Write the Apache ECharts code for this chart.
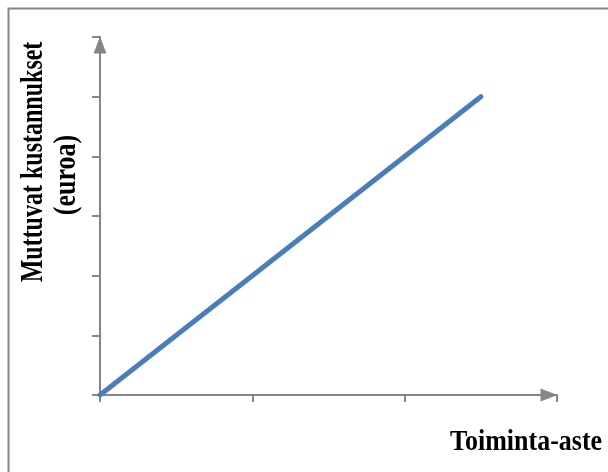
<!DOCTYPE html>
<html>
<head>
<meta charset="utf-8">
<script src="https://cdn.jsdelivr.net/npm/echarts@6/dist/echarts.min.js"></script>
<style>html,body{margin:0;padding:0;background:#fff;}#c{width:608px;height:472px;}</style>
</head>
<body>
<div id="c"></div>
<script>
var xValues = [0, 2.5];
var yValues = [0, 5];
var xTitle = 'Toiminta-aste';
var yTitleLines = ['Muttuvat kustannukset', '(euroa)'];

var chart = echarts.init(document.getElementById('c'), null, {renderer: 'canvas'});
var axisColor = '#868686';
var data = xValues.map(function (x, i) { return [x, yValues[i]]; });
var font = '"Liberation Serif", "Times New Roman", serif';
chart.setOption({
  animation: false,
  backgroundColor: '#fff',
  grid: {left: 100, top: 37, width: 457, height: 358, containLabel: false},
  xAxis: {
    type: 'value', min: 0, max: 3, interval: 1,
    axisLine: {show: true, symbol: ['none', 'triangle'], symbolSize: [13, 17], symbolOffset: [0, -8], lineStyle: {color: axisColor, width: 2}},
    axisTick: {show: true, inside: false, length: 7, lineStyle: {color: axisColor, width: 2}},
    axisLabel: {show: false},
    splitLine: {show: false}
  },
  yAxis: {
    type: 'value', min: 0, max: 6, interval: 1,
    axisLine: {show: true, symbol: ['none', 'triangle'], symbolSize: [13, 17], symbolOffset: [0, -8], lineStyle: {color: axisColor, width: 2}},
    axisTick: {show: true, inside: false, length: 8, lineStyle: {color: axisColor, width: 2}},
    axisLabel: {show: false},
    splitLine: {show: false}
  },
  series: [{
    type: 'line', data: data, showSymbol: false, symbol: 'none',
    lineStyle: {color: '#4a7ebb', width: 5, cap: 'round'}
  }],
  graphic: [
    {type: 'rect', shape: {x: 8.5, y: 8.5, width: 700, height: 600}, style: {fill: 'none', stroke: axisColor, lineWidth: 2}, silent: true, z: -1},
    {type: 'text', x: 450, y: 442, scaleY: 1.15,
     style: {text: xTitle, font: 'bold 26px ' + font, fill: '#000', textAlign: 'left', textVerticalAlign: 'middle'}},
    {type: 'text', x: 34, y: 162, rotation: Math.PI / 2, scaleY: 1.3,
     style: {text: yTitleLines[0], font: 'bold 24px ' + font, fill: '#000', textAlign: 'center', textVerticalAlign: 'middle'}},
    {type: 'text', x: 67, y: 175, rotation: Math.PI / 2, scaleY: 1.2,
     style: {text: yTitleLines[1], font: 'bold 26px ' + font, fill: '#000', textAlign: 'center', textVerticalAlign: 'middle'}}
  ]
});
</script>
</body>
</html>
